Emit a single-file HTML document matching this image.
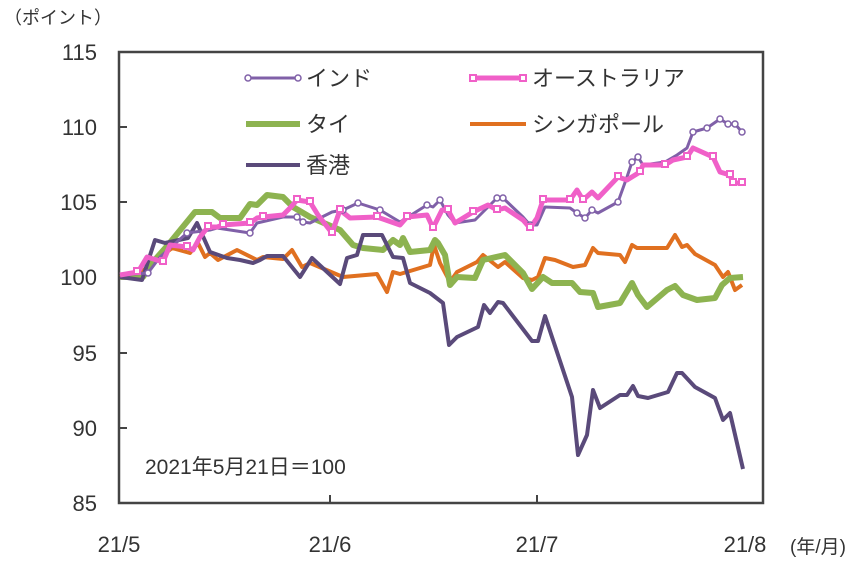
<!DOCTYPE html>
<html><head><meta charset="utf-8"><style>
body{margin:0;background:#fff}
text{font-family:"Liberation Sans","Noto Sans CJK JP",sans-serif;fill:#333}
</style></head><body>
<svg width="868" height="559" xmlns="http://www.w3.org/2000/svg">
<rect x="0" y="0" width="868" height="559" fill="#fff"/>
<text x="4" y="24" font-size="18">（ポイント）</text>
<g font-size="22" text-anchor="end">
<text x="97" y="60">115</text><text x="97" y="135">110</text><text x="97" y="210">105</text>
<text x="97" y="285">100</text><text x="97" y="361">95</text><text x="97" y="436">90</text><text x="97" y="511">85</text>
</g>
<g font-size="22" text-anchor="middle">
<text x="119" y="552">21/5</text><text x="330" y="552">21/6</text><text x="537" y="552">21/7</text><text x="745" y="552">21/8</text>
</g>
<text x="790" y="553" font-size="19">(年/月)</text>
<rect x="119" y="52" width="644" height="451" fill="none" stroke="#444" stroke-width="2.5"/>
<g stroke="#444" stroke-width="2">
<line x1="119" y1="127" x2="127" y2="127"/><line x1="119" y1="202" x2="127" y2="202"/><line x1="119" y1="277" x2="127" y2="277"/><line x1="119" y1="353" x2="127" y2="353"/><line x1="119" y1="428" x2="127" y2="428"/>
<line x1="330" y1="503" x2="330" y2="495"/><line x1="537" y1="503" x2="537" y2="495"/>
</g>
<g fill="none" stroke-linejoin="round">
<polyline stroke="#e07020" stroke-width="4" points="120,277 140,273 153,263 172,248 190,253 198,243 205,257 210,253 218,260 237,250 257,260 263,257 283,259 292,250 302,267 310,263 343,277 377,274 387,292 393,272 400,274 430,265 434,245 440,263 450,282 457,272 477,262 483,255 498,267 505,262 523,278 532,280 538,277 545,258 555,260 573,267 585,265 593,248 598,253 620,255 625,262 632,245 637,248 667,248 675,235 682,247 687,245 695,254 715,265 723,277 728,272 735,290 742,285"/>
<polyline stroke="#8db350" stroke-width="6" points="120,277 143,277 153,262 168,245 195,212 212,212 220,218 240,218 250,204 257,205 267,195 283,197 293,207 310,217 340,230 353,245 363,248 383,250 393,240 400,245 403,238 410,252 430,250 435,240 438,243 445,255 450,285 457,277 475,278 483,260 505,255 523,273 532,289 543,277 552,283 572,283 580,292 593,293 598,307 620,303 632,283 638,295 647,307 667,290 675,286 683,295 697,300 715,298 722,285 730,278 743,277"/>
<polyline stroke="#5a4a7a" stroke-width="4" points="120,277 142,280 155,240 165,243 188,238 197,223 210,252 227,258 240,260 253,263 260,260 267,256 283,256 300,277 312,258 340,284 347,258 357,255 363,235 382,235 393,257 403,258 410,283 430,293 443,303 449,345 457,337 478,327 484,305 490,313 498,302 503,303 532,341 538,341 545,316 572,397 578,455 587,435 593,390 600,408 620,395 627,395 633,386 638,396 648,398 668,392 677,373 682,373 695,387 715,398 723,420 730,413 743,469"/>
<polyline stroke="#8060a8" stroke-width="3" points="120,275 148,273 160,257 187,233 210,230 217,228 250,233 257,223 283,217 297,217 303,222 310,223 332,212 343,210 358,203 380,210 400,222 427,205 433,207 440,200 448,215 455,223 475,220 497,198 503,198 523,217 530,225 537,225 545,207 570,208 577,213 585,218 592,210 598,213 618,202 627,177 632,162 638,157 643,165 665,162 677,155 687,148 693,132 707,128 720,119 728,124 735,124 742,132"/>
<polyline stroke="#f060c8" stroke-width="5" points="120,275 138,272 147,257 163,262 170,245 187,247 193,250 200,237 208,227 217,227 223,225 250,223 257,218 263,217 283,215 290,208 297,200 310,202 318,215 332,233 340,210 350,218 377,217 400,225 407,217 427,215 433,228 442,210 448,210 455,223 473,212 488,205 497,210 505,208 523,220 530,228 537,218 543,200 570,200 577,190 583,200 592,192 598,198 618,177 627,180 640,172 643,165 665,165 673,160 687,157 693,148 713,157 720,172 730,175 733,183 743,183"/>
</g>
<g fill="#fff" stroke="#8060a8" stroke-width="1.5">
<circle cx="148" cy="273" r="3"/><circle cx="187" cy="233" r="3"/><circle cx="250" cy="233" r="3"/><circle cx="297" cy="217" r="3"/><circle cx="303" cy="222" r="3"/><circle cx="343" cy="210" r="3"/><circle cx="358" cy="203" r="3"/><circle cx="380" cy="210" r="3"/><circle cx="427" cy="205" r="3"/><circle cx="440" cy="200" r="3"/><circle cx="497" cy="198" r="3"/><circle cx="503" cy="198" r="3"/><circle cx="530" cy="225" r="3"/><circle cx="577" cy="213" r="3"/><circle cx="585" cy="218" r="3"/><circle cx="592" cy="210" r="3"/><circle cx="618" cy="202" r="3"/><circle cx="632" cy="162" r="3"/><circle cx="638" cy="157" r="3"/><circle cx="693" cy="132" r="3"/><circle cx="707" cy="128" r="3"/><circle cx="720" cy="119" r="3"/><circle cx="728" cy="124" r="3"/><circle cx="735" cy="124" r="3"/><circle cx="742" cy="132" r="3"/>
</g>
<g fill="#fff" stroke="#f060c8" stroke-width="2">
<rect x="134" y="268" width="6" height="6"/><rect x="160" y="258" width="6" height="6"/><rect x="184" y="243" width="6" height="6"/><rect x="205" y="223" width="6" height="6"/><rect x="220" y="221" width="6" height="6"/><rect x="247" y="219" width="6" height="6"/><rect x="260" y="213" width="6" height="6"/><rect x="294" y="196" width="6" height="6"/><rect x="307" y="198" width="6" height="6"/><rect x="329" y="229" width="6" height="6"/><rect x="337" y="206" width="6" height="6"/><rect x="374" y="213" width="6" height="6"/><rect x="404" y="213" width="6" height="6"/><rect x="430" y="224" width="6" height="6"/><rect x="445" y="206" width="6" height="6"/><rect x="470" y="208" width="6" height="6"/><rect x="494" y="206" width="6" height="6"/><rect x="527" y="224" width="6" height="6"/><rect x="540" y="196" width="6" height="6"/><rect x="567" y="196" width="6" height="6"/><rect x="580" y="196" width="6" height="6"/><rect x="615" y="173" width="6" height="6"/><rect x="637" y="168" width="6" height="6"/><rect x="662" y="161" width="6" height="6"/><rect x="684" y="153" width="6" height="6"/><rect x="710" y="153" width="6" height="6"/><rect x="727" y="171" width="6" height="6"/><rect x="730" y="179" width="6" height="6"/><rect x="739" y="179" width="6" height="6"/>
</g>
<!-- legend -->
<line x1="246" y1="78" x2="300" y2="78" stroke="#8060a8" stroke-width="3"/>
<circle cx="248" cy="78" r="3" fill="#fff" stroke="#8060a8" stroke-width="1.5"/><circle cx="298" cy="78" r="3" fill="#fff" stroke="#8060a8" stroke-width="1.5"/>
<text x="306" y="86" font-size="22">インド</text>
<line x1="470" y1="78" x2="526" y2="78" stroke="#f060c8" stroke-width="5"/>
<rect x="470" y="75" width="6" height="6" fill="#fff" stroke="#f060c8" stroke-width="2"/><rect x="520" y="75" width="6" height="6" fill="#fff" stroke="#f060c8" stroke-width="2"/>
<text x="532" y="86" font-size="22">オーストラリア</text>
<line x1="246" y1="124" x2="300" y2="124" stroke="#8db350" stroke-width="6"/>
<text x="306" y="132" font-size="22">タイ</text>
<line x1="470" y1="124" x2="526" y2="124" stroke="#e07020" stroke-width="4"/>
<text x="532" y="132" font-size="22">シンガポール</text>
<line x1="246" y1="165" x2="300" y2="165" stroke="#5a4a7a" stroke-width="4"/>
<text x="306" y="173" font-size="22">香港</text>
<text x="145" y="474" font-size="21">2021年5月21日＝100</text>
</svg>
</body></html>
